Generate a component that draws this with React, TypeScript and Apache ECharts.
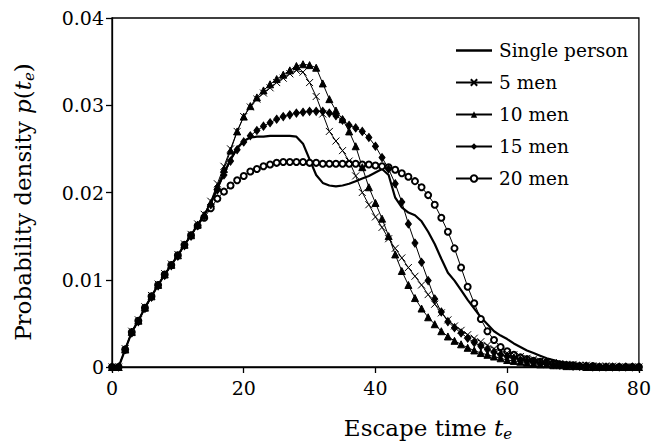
import React, { useEffect, useRef } from "react";
import * as echarts from "echarts";

const times = [0,1,2,3,4,5,6,7,8,9,10,11,12,13,14,15,16,17,18,19,20,21,22,23,24,25,26,27,28,29,30,31,32,33,34,35,36,37,38,39,40,41,42,43,44,45,46,47,48,49,50,51,52,53,54,55,56,57,58,59,60,61,62,63,64,65,66,67,68,69,70,71,72,73,74,75,76,77,78,79,80];

const singlePerson = [0,0,0.0020,0.0040,0.0053,0.0068,0.0081,0.0094,0.0106,0.0117,0.0128,0.0140,0.0151,0.0163,0.0174,
  0.0188,0.0205,0.0222,0.0238,0.0251,0.0259,0.0263,0.0264,0.0264,0.0265,0.0265,0.0265,0.0265,0.0264,
  0.0256,0.0238,0.0220,0.0211,0.0208,0.0207,0.0208,0.0210,0.0213,0.0216,0.0219,0.0223,0.0227,
  0.0220,0.0194,0.0183,0.0177,0.0174,0.0167,0.0155,0.0141,0.0124,0.0108,0.0099,0.0088,0.0077,0.0067,0.0057,
  0.0049,0.0041,0.0036,0.0032,0.0027,0.0023,0.0019,0.0016,0.0013,0.0010,0.0008,0.0006,0.0005,0.0004,0.0003,0.0002,0.0002,0.0001,0.0001,
  0,0,0,0,0];

const men5 = [0,0,0.0021,0.0041,0.0054,0.0069,0.0082,0.0095,0.0107,0.0118,0.0129,0.0141,0.0152,0.0164,0.0175,
  0.0190,0.0210,0.0230,0.0250,0.0270,0.0287,0.0298,0.0307,0.0314,0.0320,0.0326,0.0331,0.0336,0.0340,
  0.0338,0.0326,0.0310,0.0290,0.0270,0.0259,0.0248,0.0236,0.0219,0.0200,0.0186,0.0172,0.0160,
  0.0147,0.0136,0.0125,0.0114,0.0104,0.0094,0.0083,0.0072,0.0062,0.0054,0.0047,0.0042,0.0037,0.0033,0.0029,
  0.0025,0.0021,0.0018,0.0016,0.0014,0.0012,0.0010,0.0009,0.0007,0.0006,0.0005,0.0004,0.0003,0.0003,0.0002,0.0002,0.0001,0.0001,0.0001,
  0.0001,0,0,0,0];

const men10 = [0,0,0.0020,0.0040,0.0053,0.0068,0.0081,0.0094,0.0106,0.0117,0.0128,0.0140,0.0151,0.0163,0.0174,
  0.0188,0.0207,0.0227,0.0248,0.0270,0.0287,0.0299,0.0309,0.0317,0.0324,0.0330,0.0335,0.0340,0.0345,
  0.0347,0.0346,0.0343,0.0325,0.0307,0.0294,0.0284,0.0270,0.0253,0.0229,0.0206,0.0188,0.0170,
  0.0150,0.0129,0.0110,0.0094,0.0079,0.0067,0.0057,0.0049,0.0041,0.0035,0.0030,0.0026,0.0022,0.0019,0.0016,
  0.0014,0.0012,0.0010,0.0008,0.0007,0.0006,0.0005,0.0004,0.0003,0.0003,0.0002,0.0002,0.0001,0.0001,0.0001,
  0,0,0,0,0,0,0,0,0];

const men15 = [0,0,0.0020,0.0039,0.0052,0.0067,0.0080,0.0093,0.0105,0.0116,0.0127,0.0139,0.0150,0.0162,0.0173,
  0.0186,0.0203,0.0220,0.0236,0.0249,0.0258,0.0265,0.0271,0.0276,0.0280,0.0284,0.0287,0.0289,0.0291,
  0.0292,0.0293,0.0293,0.0293,0.0291,0.0288,0.0283,0.0277,0.0274,0.0270,0.0263,0.0253,0.0240,
  0.0227,0.0210,0.0189,0.0164,0.0142,0.0120,0.0099,0.0078,0.0063,0.0052,0.0045,0.0039,0.0033,0.0028,0.0024,
  0.0020,0.0017,0.0014,0.0012,0.0010,0.0008,0.0007,0.0006,0.0005,0.0004,0.0003,0.0002,0.0002,0.0001,0.0001,0.0001,
  0,0,0,0,0,0,0,0];

const men20 = [0,0,0.0020,0.0040,0.0053,0.0068,0.0081,0.0094,0.0106,0.0117,0.0128,0.0140,0.0151,0.0162,0.0171,
  0.0182,0.0193,0.0201,0.0208,0.0214,0.0219,0.0224,0.0227,0.0230,0.0232,0.0234,0.0235,0.0235,0.0235,
  0.0235,0.0234,0.0234,0.0233,0.0233,0.0233,0.0233,0.0233,0.0233,0.0232,0.0232,0.0231,0.0230,
  0.0229,0.0226,0.0222,0.0218,0.0213,0.0206,0.0197,0.0186,0.0171,0.0155,0.0136,0.0114,0.0092,0.0073,0.0055,
  0.0041,0.0031,0.0023,0.0018,0.0014,0.0011,0.0009,0.0007,0.0006,0.0005,0.0004,0.0003,0.0002,0.0002,0.0001,0.0001,0.0001,
  0,0,0,0,0,0,0];

const seriesNames = ["Single person", "5 men", "10 men", "15 men", "20 men"];
const xTicks = [0, 20, 40, 60, 80];
const yTicks = [0, 0.01, 0.02, 0.03, 0.04];

const FONT = "DejaVu Serif";

function pairs(values: number[]) {
  return times.map((t, i) => [t, values[i]]);
}

const titleRich = {
  a: { fontFamily: FONT, fontSize: 23, fill: "#000" },
  i: { fontFamily: FONT, fontSize: 23, fontStyle: "italic", fill: "#000" },
  s: { fontFamily: FONT, fontSize: 15, fontStyle: "italic", fill: "#000", padding: [12, 0, 0, 0] },
};

export default function App() {
  const ref = useRef<HTMLDivElement>(null);
  useEffect(() => {
    if (!ref.current) return;
    const chart = echarts.init(ref.current, undefined, { renderer: "svg" });
    const base = {
      type: "line",
      color: "#000",
      showSymbol: true,
      showAllSymbol: true,
      lineStyle: { color: "#000", width: 1 },
      itemStyle: { color: "#000", borderColor: "#000" },
      emphasis: { disabled: true },
    };
    chart.setOption({
      animation: false,
      backgroundColor: "#fff",
      grid: {
        left: 112,
        right: 12,
        top: 18,
        bottom: 80,
        show: true,
        borderColor: "#000",
        borderWidth: 1.3,
        backgroundColor: "transparent",
      },
      legend: {
        orient: "vertical",
        left: 455,
        top: 41,
        padding: 0,
        itemWidth: 36,
        itemHeight: 8,
        itemGap: 13,
        data: [
          { name: seriesNames[0], icon: "path://M0,0L36,0L36,2.4L0,2.4Z" },
          seriesNames[1],
          seriesNames[2],
          seriesNames[3],
          seriesNames[4],
        ],
        textStyle: { fontFamily: FONT, fontSize: 18.5, color: "#000", padding: [0, 0, 0, 2] },
      },
      graphic: [
        {
          type: "text",
          x: 428,
          y: 428,
          style: {
            text: "{a|Escape time }{i|t}{s|e}",
            rich: titleRich,
            align: "center",
            verticalAlign: "middle",
          },
        },
        {
          type: "text",
          x: 23,
          y: 202,
          rotation: Math.PI / 2,
          style: {
            text: "{a|Probability density }{i|p}{a|(}{i|t}{s|e}{a|)}",
            rich: titleRich,
            align: "center",
            verticalAlign: "middle",
          },
        },
      ],
      xAxis: {
        type: "value",
        min: xTicks[0],
        max: xTicks[xTicks.length - 1],
        interval: 20,
        splitLine: { show: false },
        axisLine: { lineStyle: { color: "#000", width: 1.3 } },
        axisTick: { length: 6, lineStyle: { color: "#000", width: 1.3 } },
        axisLabel: { fontFamily: FONT, fontSize: 19, color: "#000", margin: 11 },
      },
      yAxis: {
        type: "value",
        min: yTicks[0],
        max: yTicks[yTicks.length - 1],
        interval: 0.01,
        splitLine: { show: false },
        axisLine: { lineStyle: { color: "#000", width: 1.3 } },
        axisTick: { length: 6, lineStyle: { color: "#000", width: 1.3 } },
        axisLabel: {
          fontFamily: FONT,
          fontSize: 19,
          color: "#000",
          margin: 8,
          formatter: (v: number) => (v === 0 ? "0" : v.toFixed(2)),
        },
      },
      series: [
        {
          ...base,
          name: seriesNames[4],
          data: pairs(men20),
          symbol: "emptyCircle",
          symbolSize: 6,
          itemStyle: { color: "#000", borderColor: "#000", borderWidth: 1 },
        },
        {
          ...base,
          name: seriesNames[3],
          data: pairs(men15),
          symbol: "diamond",
          symbolSize: [6, 8],
        },
        {
          ...base,
          name: seriesNames[2],
          data: pairs(men10),
          symbol: "triangle",
          symbolSize: 7,
        },
        {
          ...base,
          name: seriesNames[1],
          data: pairs(men5),
          symbol: "path://M0,0L10,10M10,0L0,10",
          symbolSize: 7,
          itemStyle: { color: "#000", borderColor: "#000", borderWidth: 1 },
        },
        {
          ...base,
          name: seriesNames[0],
          data: pairs(singlePerson),
          symbol: "none",
          lineStyle: { color: "#000", width: 2.2 },
        },
      ],
    });
    return () => chart.dispose();
  }, []);
  return (
    <div
      ref={ref}
      style={{ position: "absolute", left: 0, top: 0, width: 654, height: 447, background: "#fff" }}
    />
  );
}
